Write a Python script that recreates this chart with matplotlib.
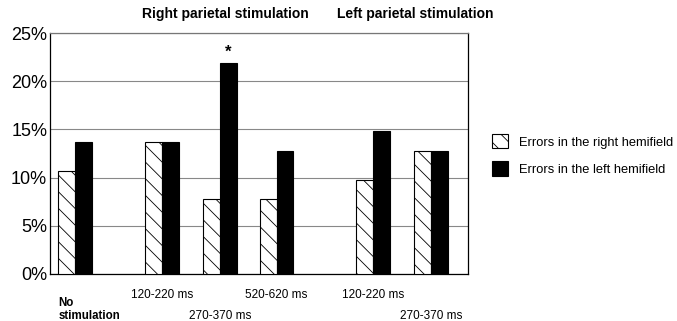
import numpy as np
import matplotlib.pyplot as plt

plt.rcParams['font.family'] = ['Liberation Sans', 'DejaVu Sans']
plt.rcParams['hatch.linewidth'] = 0.6
plt.rcParams['hatch.color'] = '#333333'

# data
categories = ["No\nstimulation", "120-220 ms", "270-370 ms", "520-620 ms", "120-220 ms", "270-370 ms"]
right_hemi = [10.7, 13.7, 7.8, 7.8, 9.8, 12.8]
left_hemi = [13.7, 13.7, 21.9, 12.8, 14.8, 12.8]
series_names = ["Errors in the right hemifield", "Errors in the left hemifield"]
group_titles = ["Right parietal stimulation", "Left parietal stimulation"]

# layout (slot units)
xpos = np.array([0.43, 1.93, 2.93, 3.91, 5.57, 6.57])
width = 0.29
label_row = [1, 0, 1, 0, 0, 1]  # 0 = upper row, 1 = lower row

fig = plt.figure(figsize=(6.77, 3.21), dpi=100)
ax = fig.add_axes([50 / 677, 1 - 274 / 321, 418 / 677, 241 / 321])

b1 = ax.bar(xpos - width / 2, right_hemi, width, color='white', edgecolor='black',
            hatch='\\\\', linewidth=0.8, label=series_names[0], zorder=3)
b2 = ax.bar(xpos + width / 2, left_hemi, width, color='black', edgecolor='black',
            linewidth=0.8, label=series_names[1], zorder=3)

ax.set_xlim(0, 7.21)
ax.set_ylim(0, 25)
ax.set_yticks(np.arange(0, 26, 5))
ax.set_yticklabels([f"{v}%" for v in range(0, 26, 5)], fontsize=13)
ax.tick_params(axis='y', length=0, pad=2)
ax.set_xticks([])
ax.grid(axis='y', color='#888888', linewidth=0.8, zorder=0)
for s in ax.spines.values():
    s.set_color('black')
    s.set_linewidth(0.9)
ax.spines['top'].set_color('#777777')

# asterisk over significant bar
ax.text(xpos[2] + width / 2, left_hemi[2] + 0.3, "*", ha='center', va='bottom',
        fontsize=12, fontweight='bold')

# category labels below
for i, lab in enumerate(categories):
    if i == 0:
        ax.text(xpos[i] - width, -2.4, lab, ha='left', va='top', fontsize=8.3,
                fontweight='bold', linespacing=1.15)
    else:
        y = -1.6 if label_row[i] == 0 else -3.7
        ax.text(xpos[i], y, lab, ha='center', va='top', fontsize=8.5)

fig.text(225 / 677, 1 - 14 / 321, group_titles[0], ha='center', va='center',
         fontsize=10, fontweight='bold')
fig.text(415 / 677, 1 - 14 / 321, group_titles[1], ha='center', va='center',
         fontsize=10, fontweight='bold')

fig.legend(handles=[b1, b2], loc='center left', bbox_to_anchor=(480 / 677, 1 - 155 / 321),
           frameon=False, fontsize=9.3, handlelength=1.3, handleheight=1.3,
           handletextpad=0.8, labelspacing=1.0)

fig.savefig("out.png", dpi=100)
